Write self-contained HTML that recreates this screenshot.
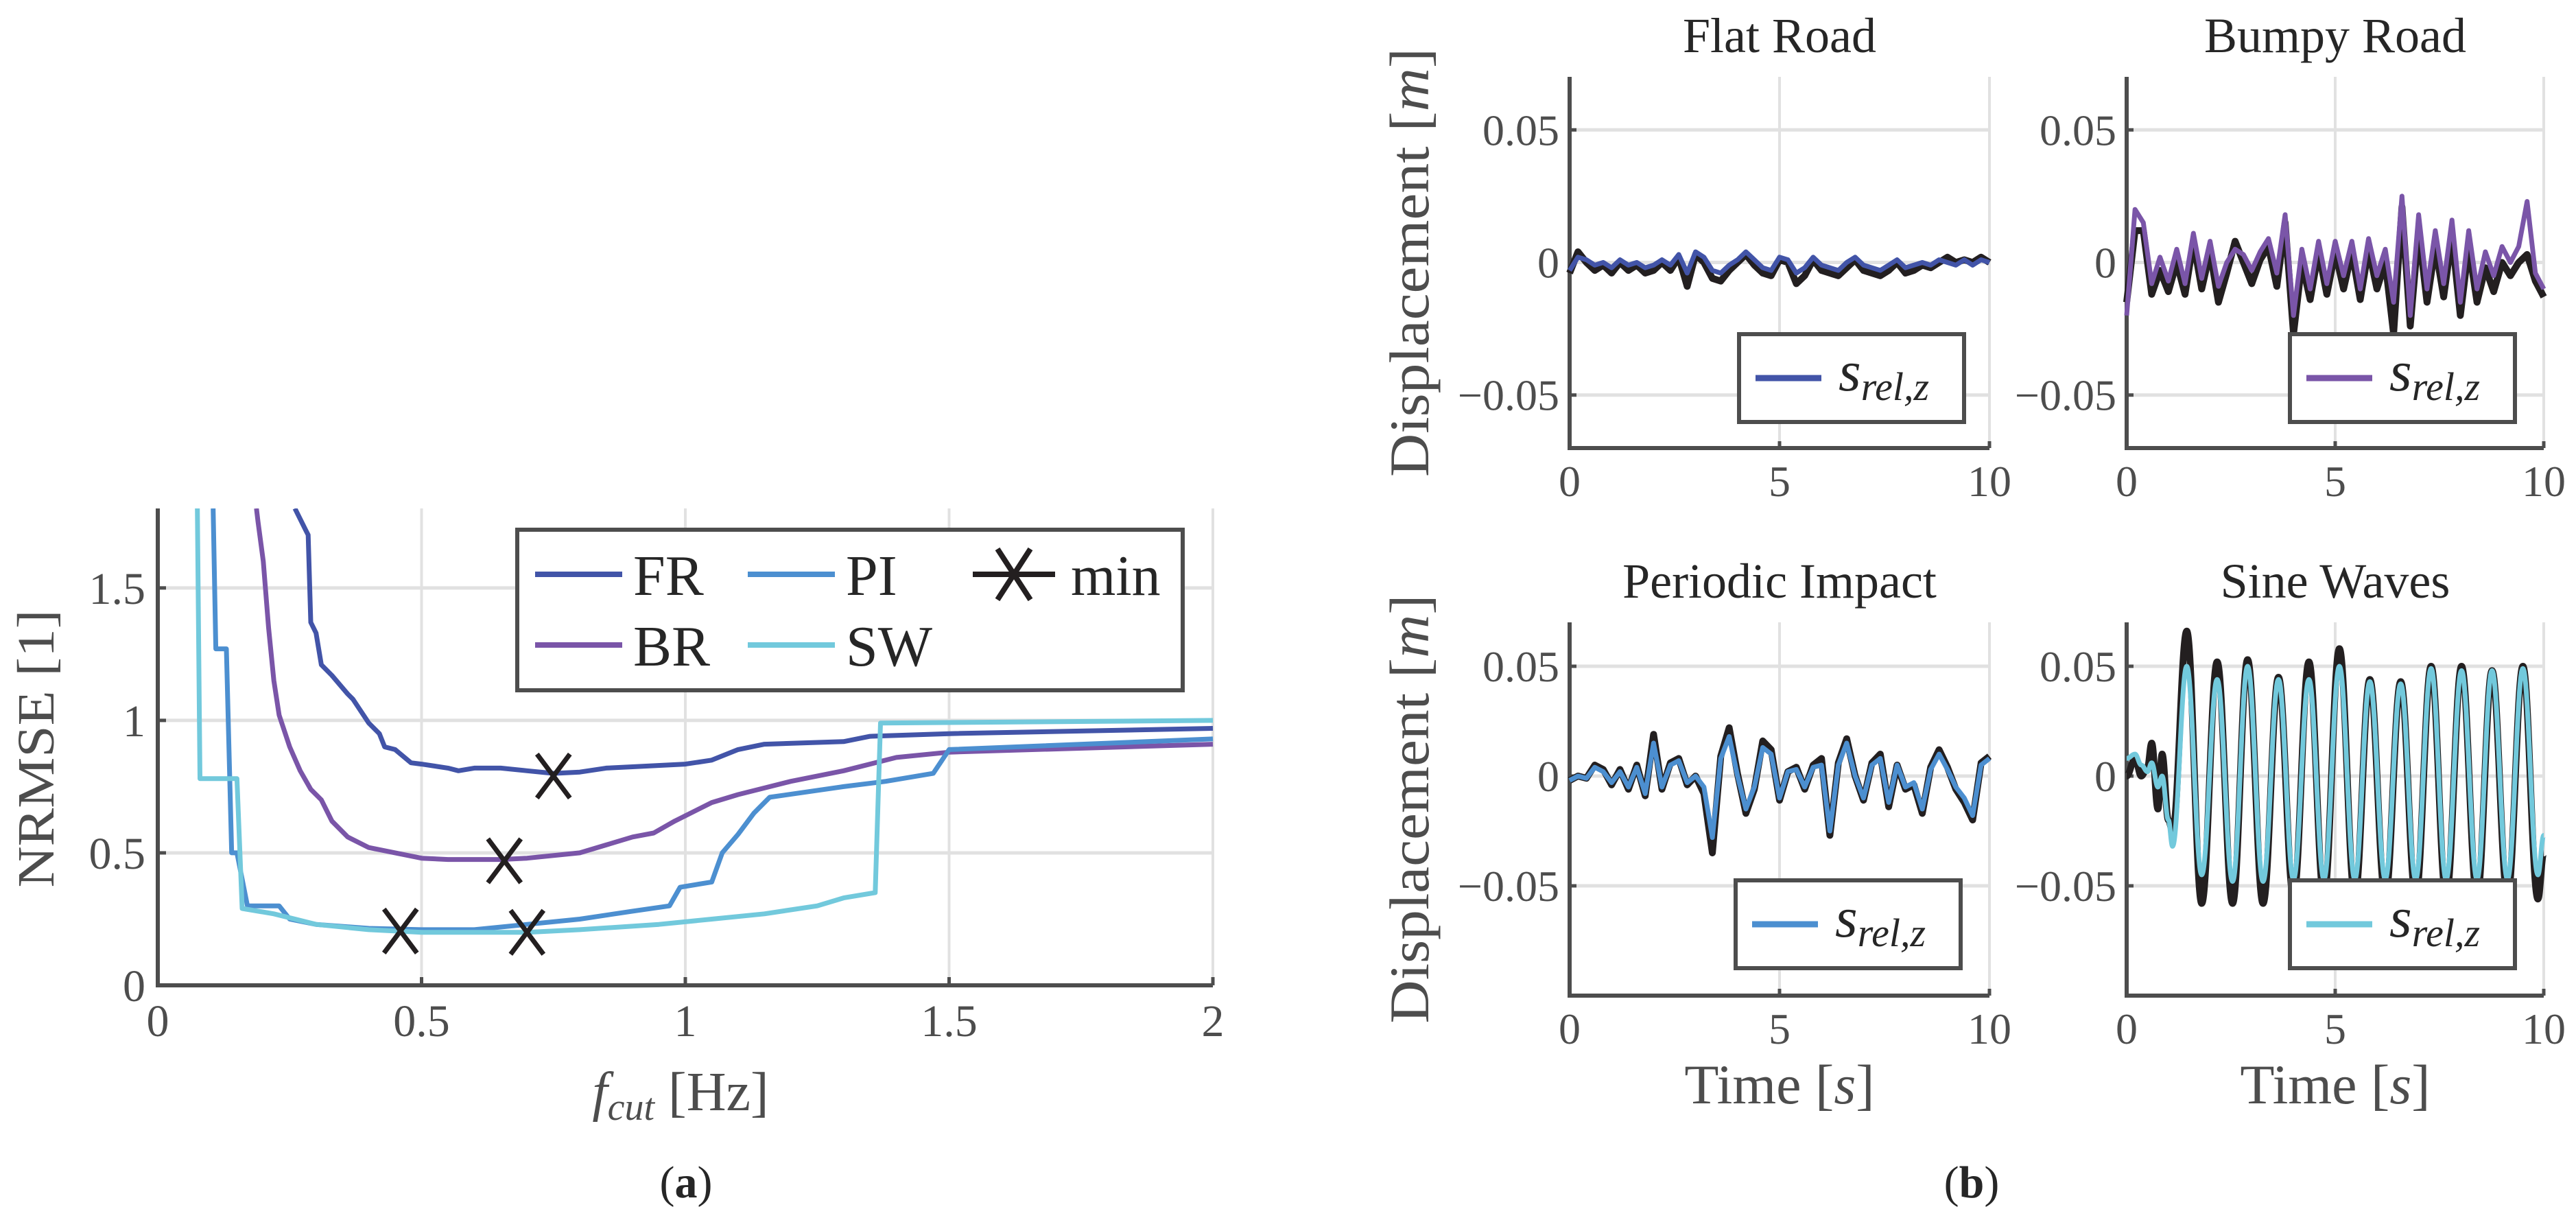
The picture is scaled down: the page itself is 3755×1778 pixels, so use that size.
<!DOCTYPE html>
<html><head><meta charset="utf-8">
<style>
html,body{margin:0;padding:0;background:#fff;}
svg{display:block;}
text{font-family:"Liberation Serif",serif;}
</style></head>
<body>
<svg id="fig" xmlns="http://www.w3.org/2000/svg" width="3755" height="1778" viewBox="0 0 3755 1778">
<defs>
<clipPath id="clipL"><rect x="230" y="741" width="1540" height="697"/></clipPath>
</defs>
</svg>
<script>
// ---------- Left chart data (NRMSE vs f_cut) ----------
const frX=[0.26,0.28,0.285,0.29,0.30,0.31,0.33,0.36,0.37,0.40,0.42,0.43,0.45,0.48,0.50,0.55,0.57,0.60,0.65,0.70,0.75,0.80,0.85,0.90,1.00,1.05,1.10,1.15,1.30,1.35,1.50,2.00];
const frY=[1.8,1.72,1.70,1.37,1.33,1.21,1.17,1.10,1.08,0.99,0.95,0.90,0.89,0.84,0.835,0.82,0.81,0.82,0.82,0.81,0.80,0.805,0.82,0.825,0.835,0.85,0.89,0.91,0.92,0.94,0.95,0.97];
const brX=[0.187,0.19,0.20,0.21,0.22,0.23,0.25,0.27,0.29,0.31,0.33,0.36,0.40,0.45,0.50,0.55,0.65,0.70,0.80,0.85,0.90,0.94,0.98,1.05,1.10,1.20,1.30,1.40,1.50,2.00];
const brY=[1.8,1.75,1.6,1.35,1.15,1.02,0.90,0.81,0.74,0.70,0.62,0.56,0.52,0.50,0.48,0.475,0.475,0.48,0.50,0.53,0.56,0.575,0.62,0.69,0.72,0.77,0.81,0.86,0.88,0.91];
const piX=[0.105,0.11,0.13,0.14,0.15,0.17,0.23,0.25,0.30,0.40,0.50,0.60,0.70,0.80,0.90,0.97,0.99,1.05,1.07,1.10,1.13,1.16,1.30,1.38,1.47,1.50,2.00];
const piY=[1.8,1.27,1.27,0.50,0.50,0.30,0.30,0.25,0.23,0.215,0.21,0.21,0.23,0.25,0.28,0.30,0.37,0.39,0.50,0.57,0.65,0.71,0.75,0.77,0.80,0.89,0.93];
const swX=[0.075,0.08,0.15,0.16,0.22,0.30,0.40,0.50,0.60,0.70,0.80,0.95,1.05,1.15,1.25,1.30,1.36,1.37,2.00];
const swY=[1.8,0.78,0.78,0.29,0.27,0.23,0.21,0.20,0.20,0.20,0.21,0.23,0.25,0.27,0.30,0.33,0.35,0.99,1.00];
const minX=[0.75,0.657,0.46,0.70];
const minY=[0.79,0.47,0.205,0.20];
const lXTicks=[0,0.5,1,1.5,2];
const lXTickLabels=["0","0.5","1","1.5","2"];
const lYTicks=[0,0.5,1,1.5];
const lYTickLabels=["0","0.5","1","1.5"];

// ---------- Right panels data (displacement vs time, 0.2 s steps) ----------
const flatRef=[-0.004,0.004,0.0,-0.003,-0.001,-0.004,0.0,-0.003,-0.001,-0.004,-0.003,0.0,-0.003,0.002,-0.009,0.003,0.0,-0.006,-0.007,-0.003,0.0,0.003,-0.001,-0.004,-0.005,0.001,0.0,-0.008,-0.005,0.001,-0.003,-0.004,-0.005,-0.002,0.001,-0.003,-0.004,-0.005,-0.003,0.0,-0.004,-0.003,-0.001,-0.002,0.0,0.002,0.0,0.001,0.0,0.002,0.0];
const flatEst=[-0.003,0.002,0.001,-0.001,0.0,-0.002,0.001,-0.001,0.0,-0.002,-0.001,0.001,-0.001,0.003,-0.004,0.004,0.002,-0.003,-0.004,-0.001,0.001,0.004,0.001,-0.002,-0.003,0.002,0.001,-0.004,-0.002,0.002,-0.001,-0.002,-0.003,0.0,0.002,-0.001,-0.002,-0.003,-0.001,0.001,-0.002,-0.001,0.0,-0.001,0.001,0.0,-0.001,0.001,-0.001,0.001,0.0];
const bumpyRef=[-0.015,0.012,0.012,-0.012,-0.003,-0.011,0.0,-0.012,0.008,-0.01,0.004,-0.015,-0.004,0.008,0.0,-0.008,0.001,0.006,-0.009,0.015,-0.027,0.0,-0.014,0.004,-0.012,0.004,-0.01,0.004,-0.014,0.005,-0.01,0.0,-0.027,0.021,-0.024,0.012,-0.015,0.006,-0.013,0.01,-0.02,0.006,-0.015,-0.002,-0.011,0.0,-0.005,0.0,0.003,-0.007,-0.013];
const bumpyEst=[-0.02,0.02,0.015,-0.008,0.002,-0.007,0.005,-0.008,0.011,-0.006,0.008,-0.009,0.0,0.005,0.003,-0.003,0.004,0.009,-0.004,0.018,-0.02,0.005,-0.01,0.008,-0.008,0.008,-0.005,0.008,-0.01,0.009,-0.005,0.005,-0.015,0.025,-0.02,0.018,-0.01,0.012,-0.008,0.016,-0.015,0.012,-0.01,0.004,-0.005,0.006,0.0,0.006,0.023,-0.004,-0.01];
const piRef=[-0.002,0.0,-0.001,0.005,0.003,-0.004,0.003,-0.006,0.005,-0.009,0.019,-0.006,0.006,0.008,-0.004,0.0,-0.008,-0.035,0.009,0.022,0.001,-0.017,-0.006,0.016,0.012,-0.011,0.002,0.004,-0.006,0.005,0.008,-0.027,0.006,0.017,0.0,-0.011,0.006,0.010,-0.014,0.005,-0.006,-0.004,-0.017,0.004,0.012,0.004,-0.006,-0.012,-0.020,0.006,0.009];
const piEst=[-0.002,0.0,-0.001,0.004,0.002,-0.003,0.002,-0.005,0.004,-0.008,0.015,-0.005,0.005,0.007,-0.003,0.0,-0.005,-0.028,0.008,0.018,0.0,-0.015,-0.005,0.013,0.010,-0.010,0.002,0.003,-0.005,0.004,0.005,-0.025,0.005,0.015,0.0,-0.010,0.005,0.008,-0.012,0.005,-0.005,-0.003,-0.015,0.003,0.010,0.003,-0.005,-0.010,-0.018,0.005,0.008];
const swT=[0,0.2,0.35,0.5,0.6,0.75,0.85,1.0,1.1,1.44,1.80,2.17,2.54,2.90,3.27,3.64,4.00,4.37,4.73,5.10,5.47,5.83,6.20,6.57,6.93,7.30,7.66,8.03,8.40,8.76,9.13,9.50,9.86,10];
const swRef=[0.0,0.008,0.0,0.004,0.015,-0.015,0.010,-0.020,-0.025,0.066,-0.058,0.052,-0.058,0.053,-0.058,0.045,-0.055,0.052,-0.055,0.058,-0.055,0.044,-0.055,0.043,-0.055,0.050,-0.055,0.050,-0.055,0.048,-0.055,0.050,-0.056,-0.035];
const swEst=[0.008,0.010,0.005,0.002,0.006,-0.005,0.0,-0.020,-0.032,0.050,-0.045,0.044,-0.048,0.050,-0.048,0.044,-0.047,0.044,-0.047,0.050,-0.047,0.043,-0.047,0.042,-0.047,0.049,-0.047,0.048,-0.047,0.048,-0.047,0.049,-0.045,-0.027];
const rXTicks=[0,5,10];
const rXTickLabels=["0","5","10"];
const rYTicks=[-0.05,0,0.05];
const rYTickLabels=["\u22120.05","0","0.05"];

const NS="http://www.w3.org/2000/svg";
const svg=document.getElementById('fig');
function mk(tag,attrs,parent){const e=document.createElementNS(NS,tag);for(const k in attrs)e.setAttribute(k,attrs[k]);(parent||svg).appendChild(e);return e;}
const AX="#4d4d4d",GRID="#e1e1e1",TXT="#262626",BLK="#231f20";
const C_FR="#4254a8",C_BR="#7a55a8",C_PI="#4c8fd0",C_SW="#72c9dc";

// ===== Left chart =====
const L={x0:230,x1:1768,y0:741,y1:1436,xmin:0,xmax:2,ymin:0,ymax:1.8};
function lx(v){return L.x0+(v-L.xmin)/(L.xmax-L.xmin)*(L.x1-L.x0);}
function ly(v){return L.y1-(v-L.ymin)/(L.ymax-L.ymin)*(L.y1-L.y0);}
const gL=mk('g',{});


lXTicks.forEach((t,i)=>{
  if(t>0){const g=mk('line',{x1:lx(t),x2:lx(t),y1:L.y0,y2:L.y1,stroke:GRID,'stroke-width':4},gL);
  
  }
  const tk=mk('line',{x1:lx(t),x2:lx(t),y1:L.y1,y2:L.y1-12,stroke:AX,'stroke-width':5},gL);
  
  
  const tl=mk('text',{x:lx(t),y:1510,'font-size':66,fill:AX,'text-anchor':'middle'},gL);
  
  
  tl.textContent=lXTickLabels[i];
});
lYTicks.forEach((t,i)=>{
  if(t>0){const g=mk('line',{x1:L.x0,x2:L.x1,y1:ly(t),y2:ly(t),stroke:GRID,'stroke-width':5},gL);
  
  }
  const tk=mk('line',{x1:L.x0,x2:L.x0+12,y1:ly(t),y2:ly(t),stroke:AX,'stroke-width':5},gL);
  
  
  const tl=mk('text',{x:212,y:ly(t)+23,'font-size':66,fill:AX,'text-anchor':'end'},gL);
  
  
  tl.textContent=lYTickLabels[i];
});
const axL=mk('path',{d:`M${L.x0},${L.y0} V${L.y1} H${L.x1}`,fill:'none',stroke:AX,'stroke-width':6},gL);


function polyL(xs,ys,col,name){
  const d=xs.map((x,i)=>(i?'L':'M')+lx(x).toFixed(1)+','+ly(ys[i]).toFixed(1)).join(' ');
  const p=mk('path',{d:d,fill:'none',stroke:col,'stroke-width':7,'stroke-linejoin':'round','clip-path':'url(#clipL)'},gL);
  
  
}
polyL(frX,frY,C_FR,'series-fr');
polyL(brX,brY,C_BR,'series-br');
polyL(piX,piY,C_PI,'series-pi');
polyL(swX,swY,C_SW,'series-sw');
function cross(cx,cy,parent){
  const g=mk('path',{d:`M${cx-24},${cy-32} L${cx+24},${cy+32} M${cx-24},${cy+32} L${cx+24},${cy-32}`,stroke:BLK,'stroke-width':7,fill:'none'},parent);
  return g;
}
minX.forEach((v,i)=>{
  const m=cross(lx(v),ly(minY[i]),gL);
  
  
});
// left legend
const lg=mk('g',{},gL);


const lgb=mk('rect',{x:754,y:772,width:970,height:234,fill:'#fff',stroke:AX,'stroke-width':6},lg);


const legItems=[["FR",C_FR,780,837],["PI",C_PI,1090,837],["BR",C_BR,780,940],["SW",C_SW,1090,940]];
legItems.forEach(it=>{
  const ln=mk('line',{x1:it[2],x2:it[2]+127,y1:it[3],y2:it[3],stroke:it[1],'stroke-width':8},lg);
  
  
  const tx=mk('text',{x:it[2]+143,y:it[3]+30,'font-size':84,fill:TXT},lg);
  
  
  tx.textContent=it[0];
});
const lmk=mk('path',{d:`M1418,837 H1538 M1454,800 L1502,874 M1454,874 L1502,800`,stroke:BLK,'stroke-width':8,fill:'none'},lg);


const lmt=mk('text',{x:1561,y:867,'font-size':84,fill:TXT},lg);


lmt.textContent='min';
const ylab=mk('text',{x:0,y:0,'font-size':76,fill:AX,'text-anchor':'middle',transform:'translate(78,1091) rotate(-90)',textLength:405,lengthAdjust:'spacingAndGlyphs'},gL);


ylab.textContent='NRMSE [1]';
const xlab=mk('text',{x:992,y:1618,'font-size':80,fill:AX,'text-anchor':'middle'},gL);


xlab.innerHTML='<tspan font-style="italic">f</tspan><tspan font-style="italic" font-size="56" dy="14">cut</tspan><tspan dy="-14"> [Hz]</tspan>';
const capA=mk('text',{x:1000,y:1745,'font-size':66,fill:TXT,'text-anchor':'middle'});


capA.innerHTML='(<tspan font-weight="bold">a</tspan>)';
const capB=mk('text',{x:2874,y:1745,'font-size':66,fill:TXT,'text-anchor':'middle'});


capB.innerHTML='(<tspan font-weight="bold">b</tspan>)';

// ===== Right panels =====
const panels=[
 {name:'flat-road',title:'Flat Road',x0:2288,x1:2900,y0:112,y1:653,ymin:-0.07,ymax:0.07,ref:flatRef,est:flatEst,col:C_FR,leg:[2535,487],ylab:true,xlab:false},
 {name:'bumpy-road',title:'Bumpy Road',x0:3100,x1:3708,y0:112,y1:653,ymin:-0.07,ymax:0.07,ref:bumpyRef,est:bumpyEst,col:C_BR,leg:[3338,487],ylab:false,xlab:false},
 {name:'periodic-impact',title:'Periodic Impact',x0:2288,x1:2900,y0:907,y1:1451,ymin:-0.1,ymax:0.07,ref:piRef,est:piEst,col:C_PI,leg:[2530,1283],ylab:true,xlab:true},
 {name:'sine-waves',title:'Sine Waves',x0:3100,x1:3708,y0:907,y1:1451,ymin:-0.1,ymax:0.07,ref:swRef,est:swEst,col:C_SW,leg:[3338,1283],ylab:false,xlab:true,times:swT}
];
panels.forEach(P=>{
  const px=v=>P.x0+v/10*(P.x1-P.x0);
  const py=v=>P.y1-(v-P.ymin)/(P.ymax-P.ymin)*(P.y1-P.y0);
  const g=mk('g',{});
  
  
  rXTicks.forEach((t,i)=>{
    if(t>0){const gl=mk('line',{x1:px(t),x2:px(t),y1:P.y0,y2:P.y1,stroke:GRID,'stroke-width':4},g);
    
    }
    const tk=mk('line',{x1:px(t),x2:px(t),y1:P.y1,y2:P.y1-10,stroke:AX,'stroke-width':5},g);
    
    
    const tl=mk('text',{x:px(t),y:P.y1+70,'font-size':64,fill:AX,'text-anchor':'middle'},g);
    
    
    tl.textContent=rXTickLabels[i];
  });
  rYTicks.forEach((t,i)=>{
    const gl=mk('line',{x1:P.x0,x2:P.x1,y1:py(t),y2:py(t),stroke:GRID,'stroke-width':5},g);
    
    
    const tk=mk('line',{x1:P.x0,x2:P.x0+10,y1:py(t),y2:py(t),stroke:AX,'stroke-width':5},g);
    
    
    const tl=mk('text',{x:P.x0-15,y:py(t)+22,'font-size':64,fill:AX,'text-anchor':'end'},g);
    
    
    tl.textContent=rYTickLabels[i];
  });
  const fr=mk('path',{d:`M${P.x0},${P.y0} V${P.y1} H${P.x1}`,fill:'none',stroke:AX,'stroke-width':6},g);
  
  
  function pathFor(vals){
    if(P.times){
      let d='M'+px(P.times[0]).toFixed(1)+','+py(vals[0]).toFixed(1);
      for(let i=1;i<vals.length;i++){
        const xa=px(P.times[i-1]),xb=px(P.times[i]),ya=py(vals[i-1]),yb=py(vals[i]);
        const dx=(xb-xa)/2.6;
        d+=` C${(xa+dx).toFixed(1)},${ya.toFixed(1)} ${(xb-dx).toFixed(1)},${yb.toFixed(1)} ${xb.toFixed(1)},${yb.toFixed(1)}`;
      }
      return d;
    }
    const n=vals.length-1;
    return vals.map((v,i)=>(i?'L':'M')+px(i*10/n).toFixed(1)+','+py(v).toFixed(1)).join(' ');
  }
  const r=mk('path',{d:pathFor(P.ref),fill:'none',stroke:BLK,'stroke-width':10,'stroke-linejoin':'round'},g);
  
  
  const e=mk('path',{d:pathFor(P.est),fill:'none',stroke:P.col,'stroke-width':7,'stroke-linejoin':'round'},g);
  
  
  const t=mk('text',{x:(P.x0+P.x1)/2,y:P.y0-36,'font-size':72,fill:TXT,'text-anchor':'middle'},g);
  
  
  t.textContent=P.title;
  const lgG=mk('g',{},g);
  
  
  const b=mk('rect',{x:P.leg[0],y:P.leg[1],width:328,height:128,fill:'#fff',stroke:AX,'stroke-width':6},lgG);
  
  
  const ll=mk('line',{x1:P.leg[0]+24,x2:P.leg[0]+120,y1:P.leg[1]+64,y2:P.leg[1]+64,stroke:P.col,'stroke-width':9},lgG);
  
  
  const lt=mk('text',{x:P.leg[0]+145,y:P.leg[1]+82,'font-size':84,fill:TXT,'font-style':'italic'},lgG);
  
  
  lt.innerHTML='s<tspan font-size="58" dy="14">rel,z</tspan>';
  if(P.ylab){
    const yl=mk('text',{x:0,y:0,'font-size':82,fill:AX,'text-anchor':'middle',transform:`translate(2082,${(P.y0+P.y1)/2}) rotate(-90)`,textLength:625,lengthAdjust:'spacingAndGlyphs'},g);
    
    
    yl.innerHTML='Displacement [<tspan font-style="italic">m</tspan>]';
  }
  if(P.xlab){
    const xl=mk('text',{x:(P.x0+P.x1)/2,y:1608,'font-size':82,fill:AX,'text-anchor':'middle'},g);
    
    
    xl.innerHTML='Time [<tspan font-style="italic">s</tspan>]';
  }
});
</script>
</body></html>
